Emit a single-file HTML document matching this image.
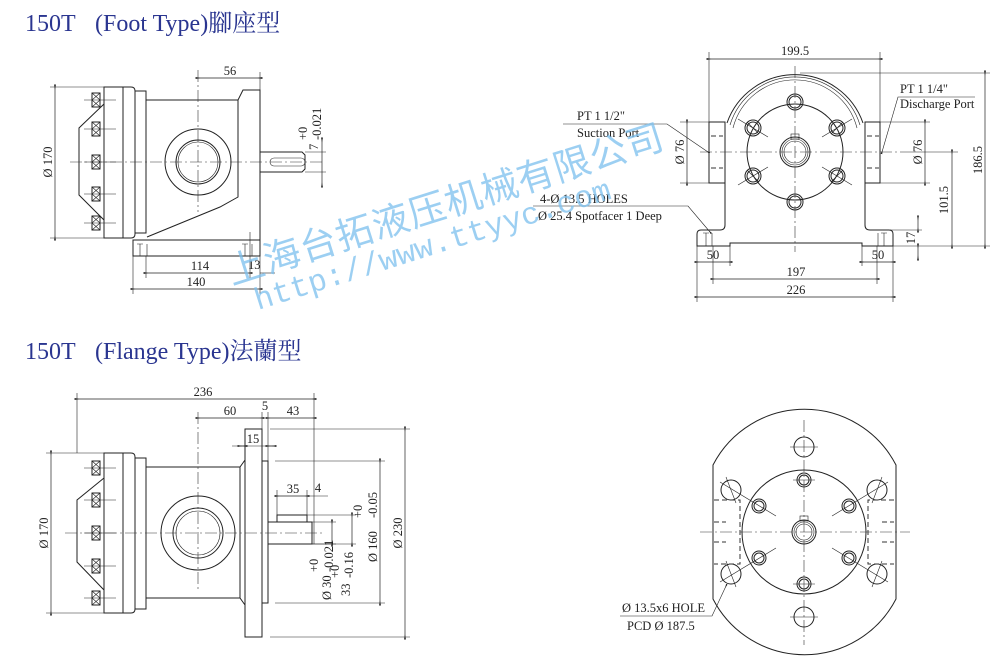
<!DOCTYPE html>
<html><head><meta charset="utf-8"><style>
html,body{margin:0;padding:0;background:#fff}
svg{display:block}
.l{stroke:#222;stroke-width:1;fill:none}
.t{stroke:#222;stroke-width:0.6;fill:none}
.c{stroke:#333;stroke-width:0.6;fill:none;stroke-dasharray:12 3 2 3}
.h{stroke:#333;stroke-width:1;fill:none;stroke-dasharray:5 3}
.d{stroke:#222;stroke-width:0.7;fill:none;marker-start:url(#a);marker-end:url(#a)}
text{font-family:"Liberation Serif",serif;fill:#222;font-size:12.5px}
.ti{font-family:"Liberation Serif","Noto Serif CJK SC",serif;fill:#2a3590;font-size:24px}
.wm{font-family:"Liberation Sans","Noto Sans CJK SC",sans-serif;fill:#7cc0ee;opacity:.75;font-size:37px}
.wu{font-family:"Liberation Mono",monospace;fill:#7cc0ee;opacity:.75;font-size:31px}
</style></head><body>
<svg width="1000" height="658" viewBox="0 0 1000 658" xmlns="http://www.w3.org/2000/svg">
<defs>
<marker id="a" viewBox="0 0 10 10" refX="5" refY="5" markerWidth="7" markerHeight="7" orient="auto-start-reverse"><path d="M0,5 L10,3 L10,7 Z" fill="#222"/></marker>
<g id="brg"><rect x="-4" y="-7" width="8" height="14" class="l"/><path d="M-4,-7 L4,0 M4,-7 L-4,0 M-4,0 L4,7 M4,0 L-4,7" class="t"/><line x1="-12" y1="0" x2="20" y2="0" class="t"/></g>
</defs>

<text x="25" y="31" class="ti">150T</text><text x="95" y="31" class="ti">(Foot Type)腳座型</text>
<text x="25" y="359" class="ti">150T</text><text x="95" y="359" class="ti">(Flange Type)法蘭型</text>

<!-- FOOT SIDE VIEW -->
<line x1="50" y1="87" x2="104" y2="87" class="t"/><line x1="50" y1="238" x2="104" y2="238" class="t"/>
<line x1="55" y1="87" x2="55" y2="238" class="d"/>
<text transform="translate(52,162) rotate(-90)" text-anchor="middle">Ø 170</text>
<path d="M104,87 H131 Q135,87 135,91 V234 Q135,238 131,238 H104 Z" class="l"/>
<line x1="123" y1="87" x2="123" y2="238" class="l"/>
<rect x="135" y="91" width="11" height="142" class="l"/>
<path d="M104,104 L79,128 V195 L104,220" class="l"/>
<use href="#brg" x="96" y="100"/><use href="#brg" x="96" y="129"/><use href="#brg" x="96" y="162"/><use href="#brg" x="96" y="194"/><use href="#brg" x="96" y="223"/>
<path d="M146,100 H238 L243,90 H260 V240" class="l"/>
<path d="M238,100 V197 L220,207 L147,237" class="l"/>
<rect x="133" y="240" width="127" height="16" class="l"/>
<path d="M137,244 H143 M140,244 V256 M147,244 V256 M242,244 H248 M245,244 V256 M252,244 V256" class="t"/>
<circle cx="198" cy="162" r="33" class="l"/><circle cx="198" cy="162" r="22" class="l"/><circle cx="198" cy="162" r="20" class="t"/>
<line x1="198" y1="70" x2="198" y2="212" class="c"/>
<line x1="70" y1="162" x2="325" y2="162" class="c"/>
<path d="M260,152 H302 L305,155 V169 L302,172 H260" class="l"/>
<rect x="270" y="158" width="35" height="8" rx="4" class="t"/>
<line x1="260" y1="72" x2="260" y2="90" class="t"/>
<line x1="198" y1="78" x2="260" y2="78" class="d"/><text x="230" y="75" text-anchor="middle">56</text>
<line x1="305" y1="152" x2="326" y2="152" class="t"/><line x1="305" y1="172" x2="326" y2="172" class="t"/>
<line x1="322" y1="140" x2="322" y2="185" class="d"/>
<text transform="translate(318,150) rotate(-90)" font-size="11">7</text>
<text transform="translate(307,140) rotate(-90)" font-size="8">+0</text>
<text transform="translate(321,140) rotate(-90)" font-size="9">-0.021</text>
<line x1="146" y1="256" x2="146" y2="278" class="t"/><line x1="250" y1="232" x2="250" y2="278" class="t"/><line x1="133" y1="256" x2="133" y2="294" class="t"/><line x1="260" y1="256" x2="260" y2="294" class="t"/>
<line x1="146" y1="273" x2="250" y2="273" class="d"/><text x="200" y="270" text-anchor="middle">114</text>
<text x="248" y="269">13</text><line x1="260" y1="273" x2="275" y2="273" class="t"/>
<line x1="133" y1="289" x2="260" y2="289" class="d"/><text x="196" y="286" text-anchor="middle">140</text>

<!-- FOOT FRONT VIEW -->
<line x1="709" y1="52" x2="709" y2="122" class="t"/><line x1="880" y1="52" x2="880" y2="122" class="t"/>
<line x1="709" y1="59" x2="880" y2="59" class="d"/><text x="795" y="55" text-anchor="middle">199.5</text>
<path d="M727,123 A72,72 0 0 1 863,123" class="l"/>
<path d="M730,125 A68,68 0 0 1 860,125" class="t"/><path d="M733,128 A64,64 0 0 1 857,128" class="t"/>
<path d="M725,122 V225 Q725,230 720,230 H701 Q697,230 697,234 V246 H730 V243 H862 V246 H893 V234 Q893,230 889,230 H870 Q865,230 865,225 V122" class="l"/>
<path d="M709,122 H725 V183 H709 Z M865,122 H880 V183 H865 Z" class="l"/>
<path d="M711,136 H723 M711,168 H723 M867,136 H879 M867,168 H879" class="h"/>
<circle cx="795" cy="152" r="48" class="l"/>
<circle cx="795" cy="152" r="15" class="l"/><circle cx="795" cy="152" r="13" class="t"/><circle cx="795" cy="152" r="11" class="t"/>
<rect x="791" y="134" width="8" height="5" class="t"/>
<g class="l">
<circle cx="795" cy="102" r="8"/><circle cx="795" cy="102" r="6"/>
<circle cx="795" cy="202" r="8"/><circle cx="795" cy="202" r="6"/>
<circle cx="753" cy="128" r="8"/><circle cx="753" cy="128" r="6"/>
<circle cx="837" cy="128" r="8"/><circle cx="837" cy="128" r="6"/>
<circle cx="753" cy="176" r="8"/><circle cx="753" cy="176" r="6"/>
<circle cx="837" cy="176" r="8"/><circle cx="837" cy="176" r="6"/>
</g>
<path d="M738,119 L768,137 M738,185 L768,167 M852,119 L822,137 M852,185 L822,167 M747,122 L759,134 M747,170 L759,182 M831,134 L843,122 M831,182 L843,170" class="t"/>
<line x1="795" y1="66" x2="795" y2="252" class="c"/>
<line x1="700" y1="152" x2="900" y2="152" class="c"/>
<path d="M703,233 H709 M706,233 V246 M712,233 V246 M881,233 H887 M884,233 V246 M878,233 V246" class="t"/>
<line x1="680" y1="122" x2="709" y2="122" class="t"/><line x1="680" y1="183" x2="709" y2="183" class="t"/>
<line x1="687" y1="122" x2="687" y2="183" class="d"/><text transform="translate(684,152) rotate(-90)" text-anchor="middle">Ø 76</text>
<line x1="880" y1="122" x2="930" y2="122" class="t"/><line x1="880" y1="183" x2="930" y2="183" class="t"/>
<line x1="925" y1="122" x2="925" y2="183" class="d"/><text transform="translate(922,152) rotate(-90)" text-anchor="middle">Ø 76</text>
<line x1="800" y1="73" x2="990" y2="73" class="t"/><line x1="893" y1="246" x2="990" y2="246" class="t"/>
<line x1="985" y1="73" x2="985" y2="246" class="d"/><text transform="translate(982,160) rotate(-90)" text-anchor="middle">186.5</text>
<line x1="900" y1="152" x2="958" y2="152" class="t"/>
<line x1="952" y1="152" x2="952" y2="246" class="d"/><text transform="translate(948,200) rotate(-90)" text-anchor="middle">101.5</text>
<line x1="890" y1="230" x2="922" y2="230" class="t"/>
<line x1="918" y1="218" x2="918" y2="230" class="d"/><line x1="918" y1="246" x2="918" y2="258" class="d"/>
<text transform="translate(915,238) rotate(-90)" text-anchor="middle">17</text>
<line x1="697" y1="246" x2="697" y2="302" class="t"/><line x1="893" y1="246" x2="893" y2="302" class="t"/>
<line x1="730" y1="246" x2="730" y2="266" class="t"/><line x1="862" y1="246" x2="862" y2="266" class="t"/>
<line x1="713" y1="246" x2="713" y2="284" class="t"/><line x1="877" y1="246" x2="877" y2="284" class="t"/>
<line x1="697" y1="262" x2="730" y2="262" class="d"/><text x="713" y="259" text-anchor="middle">50</text>
<line x1="862" y1="262" x2="893" y2="262" class="d"/><text x="878" y="259" text-anchor="middle">50</text>
<line x1="713" y1="279" x2="877" y2="279" class="d"/><text x="796" y="276" text-anchor="middle">197</text>
<line x1="697" y1="297" x2="893" y2="297" class="d"/><text x="796" y="294" text-anchor="middle">226</text>
<text x="577" y="120">PT 1 1/2"</text><text x="577" y="137">Suction Port</text>
<path d="M563,124 H667 L708,152" class="t" style="marker-end:url(#a)"/>
<text x="900" y="93">PT 1 1/4"</text><text x="900" y="108">Discharge Port</text>
<path d="M975,97 H898 L882,152" class="t" style="marker-end:url(#a)"/>
<text x="540" y="203">4-Ø 13.5 HOLES</text><text x="538" y="220">Ø 25.4 Spotfacer 1 Deep</text>
<path d="M533,206 H688 L710,232" class="t" style="marker-end:url(#a)"/>

<!-- FLANGE SIDE VIEW -->
<line x1="46" y1="453" x2="104" y2="453" class="t"/><line x1="46" y1="613" x2="104" y2="613" class="t"/>
<line x1="51" y1="453" x2="51" y2="613" class="d"/><text transform="translate(48,533) rotate(-90)" text-anchor="middle">Ø 170</text>
<path d="M104,453 H131 Q135,453 135,457 V609 Q135,613 131,613 H104 Z" class="l"/>
<line x1="123" y1="453" x2="123" y2="613" class="l"/>
<rect x="135" y="458" width="11" height="151" class="l"/>
<path d="M104,478 L77,500 V562 L104,590" class="l"/>
<use href="#brg" x="96" y="468"/><use href="#brg" x="96" y="500"/><use href="#brg" x="96" y="533"/><use href="#brg" x="96" y="566"/><use href="#brg" x="96" y="598"/>
<path d="M146,467 H240 L245,460 M146,598 H240 L245,605 M240,467 V598" class="l"/>
<rect x="245" y="429" width="17" height="208" class="l"/>
<rect x="262" y="461" width="6" height="142" class="l"/>
<rect x="268" y="522" width="44" height="22" class="l"/>
<rect x="277" y="515" width="30" height="7" class="l"/>
<circle cx="198" cy="533" r="37" class="l"/><circle cx="198" cy="533" r="25" class="l"/><circle cx="198" cy="533" r="22" class="t"/>
<line x1="198" y1="412" x2="198" y2="590" class="c"/>
<line x1="65" y1="533" x2="325" y2="533" class="c"/>
<line x1="77" y1="393" x2="77" y2="453" class="t"/><line x1="314" y1="393" x2="314" y2="544" class="t"/>
<line x1="77" y1="399" x2="314" y2="399" class="d"/><text x="203" y="396" text-anchor="middle">236</text>
<line x1="262" y1="412" x2="262" y2="461" class="t"/><line x1="268" y1="412" x2="268" y2="461" class="t"/>
<line x1="198" y1="418" x2="262" y2="418" class="d"/><text x="230" y="415" text-anchor="middle">60</text>
<text x="265" y="410" text-anchor="middle">5</text>
<line x1="268" y1="418" x2="314" y2="418" class="d"/><text x="293" y="415" text-anchor="middle">43</text>
<line x1="232" y1="446" x2="276" y2="446" class="t"/><line x1="240" y1="446" x2="245" y2="446" class="d"/><line x1="268" y1="446" x2="274" y2="446" class="d"/>
<text x="253" y="443" text-anchor="middle">15</text>
<line x1="277" y1="490" x2="277" y2="515" class="t"/><line x1="307" y1="490" x2="307" y2="515" class="t"/>
<line x1="277" y1="496" x2="307" y2="496" class="d"/><text x="293" y="493" text-anchor="middle">35</text>
<line x1="307" y1="496" x2="328" y2="496" class="t"/><text x="318" y="492" text-anchor="middle">4</text>
<line x1="312" y1="544" x2="336" y2="544" class="t"/><line x1="312" y1="522" x2="336" y2="522" class="t"/>
<line x1="332" y1="522" x2="332" y2="544" class="d"/>
<line x1="307" y1="515" x2="356" y2="515" class="t"/><line x1="312" y1="544" x2="356" y2="544" class="t"/>
<line x1="352" y1="515" x2="352" y2="544" class="d"/>
<text transform="translate(331,600) rotate(-90)" font-size="11">Ø 30</text>
<text transform="translate(318,572) rotate(-90)" font-size="8">+0</text>
<text transform="translate(333,572) rotate(-90)" font-size="8">-0.021</text>
<text transform="translate(350,596) rotate(-90)" font-size="11">33</text>
<text transform="translate(339,578) rotate(-90)" font-size="8">+0</text>
<text transform="translate(353,578) rotate(-90)" font-size="8">-0.16</text>
<line x1="275" y1="461" x2="385" y2="461" class="t"/><line x1="275" y1="603" x2="385" y2="603" class="t"/>
<line x1="380" y1="461" x2="380" y2="603" class="d"/>
<text transform="translate(377,562) rotate(-90)" font-size="12">Ø 160</text>
<text transform="translate(362,518) rotate(-90)" font-size="8">+0</text>
<text transform="translate(377,518) rotate(-90)" font-size="8">-0.05</text>
<line x1="270" y1="429" x2="410" y2="429" class="t"/><line x1="270" y1="637" x2="410" y2="637" class="t"/>
<line x1="405" y1="429" x2="405" y2="637" class="d"/><text transform="translate(402,533) rotate(-90)" text-anchor="middle">Ø 230</text>

<!-- FLANGE FRONT VIEW -->
<path d="M713,465 A103,103 0 0 1 896,465 V599 A103,103 0 0 1 713,599 Z" class="l"/>
<circle cx="804" cy="532" r="62" class="l"/>
<circle cx="804" cy="532" r="12" class="l"/><circle cx="804" cy="532" r="10" class="t"/><circle cx="804" cy="532" r="8" class="t"/>
<rect x="800" y="516" width="8" height="5" class="t"/>
<g class="l">
<circle cx="804" cy="447" r="10"/><circle cx="804" cy="617" r="10"/>
<circle cx="731" cy="490" r="10"/><circle cx="877" cy="490" r="10"/>
<circle cx="731" cy="574" r="10"/><circle cx="877" cy="574" r="10"/>
<circle cx="804" cy="480" r="7"/><circle cx="804" cy="480" r="5"/>
<circle cx="804" cy="584" r="7"/><circle cx="804" cy="584" r="5"/>
<circle cx="759" cy="506" r="7"/><circle cx="759" cy="506" r="5"/>
<circle cx="849" cy="506" r="7"/><circle cx="849" cy="506" r="5"/>
<circle cx="759" cy="558" r="7"/><circle cx="759" cy="558" r="5"/>
<circle cx="849" cy="558" r="7"/><circle cx="849" cy="558" r="5"/>
</g>
<path d="M720,482 L776,516 M720,582 L776,548 M888,482 L832,516 M888,582 L832,548 M790,447 H818 M790,617 H818 M793,480 H815 M793,584 H815 M726,477 L736,503 M726,561 L736,587 M872,503 L882,477 M872,587 L882,561" class="t"/>
<path d="M714,500 H740 V564 H714 M894,500 H868 V564 H894 M714,522 H726 M714,542 H726 M882,522 H894 M882,542 H894" class="h"/>
<line x1="804" y1="420" x2="804" y2="645" class="c"/>
<line x1="700" y1="532" x2="910" y2="532" class="c"/>
<text x="622" y="612">Ø 13.5x6 HOLE</text><text x="627" y="630">PCD Ø 187.5</text>
<path d="M620,616 H712 L726,586" class="t" style="marker-end:url(#a)"/>

<!-- WATERMARK -->
<text class="wm" transform="translate(232,285) rotate(-17.5)" letter-spacing="1">上海台拓液压机械有限公司</text>
<text class="wu" transform="translate(258,310) rotate(-17.5)">http://www.ttyyc.com</text>
</svg>
</body></html>
